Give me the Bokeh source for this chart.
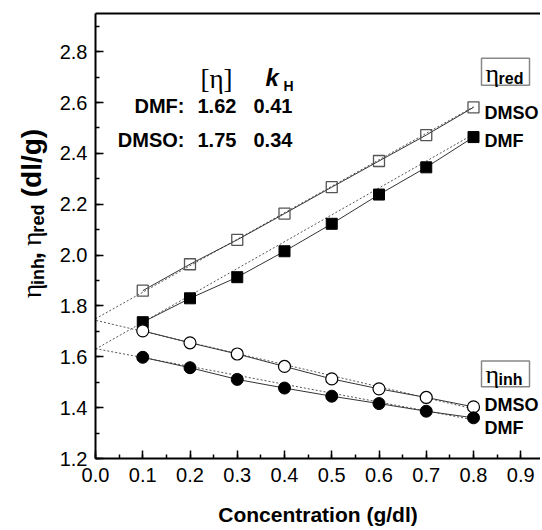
import math
from bokeh.plotting import figure
from bokeh.layouts import row
from bokeh.models import (Range1d, SingleIntervalTicker, FixedTicker, PrintfTickFormatter,
                          Label, LinearAxis)
from bokeh.embed import file_html
from bokeh.resources import INLINE

# ---------------- data ----------------
conc = [0.1, 0.2, 0.3, 0.4, 0.5, 0.6, 0.7, 0.8]
red_dmso = [1.860, 1.964, 2.060, 2.163, 2.267, 2.370, 2.472, 2.581]
red_dmf = [1.736, 1.830, 1.913, 2.015, 2.123, 2.238, 2.345, 2.464]
inh_dmso = [1.702, 1.655, 1.611, 1.562, 1.513, 1.474, 1.440, 1.403]
inh_dmf = [1.598, 1.557, 1.511, 1.477, 1.445, 1.416, 1.386, 1.360]

# dotted extrapolation lines
fit_dmso_x = [-0.015, 0.8]
fit_red_dmso_y = [1.734, 2.583]
fit_inh_dmso_y = [1.750, 1.395]
fit_dmf_x = [0.0, 0.8]
fit_red_dmf_y = [1.630, 2.475]
fit_inh_dmf_y = [1.632, 1.352]

x_ticks_interval = 0.1
y_ticks_interval = 0.2

# ---------------- layout (page pixels) ----------------
TOTAL_W, TOTAL_H = 540, 528
LW = 52                      # strip holding the rotated y title
W = TOTAL_W - LW             # main figure width
H = TOTAL_H
ML, MR, MT = 43, 0, 13
FH = 447
MB = H - MT - FH
FW = W - ML - MR
PX0 = LW + ML                # page x of the frame's left edge
PY0 = MT + FH                # page y of the frame's bottom edge
XPPU = 472.5                 # pixels per x unit
XMIN = 0.0
XMAX = XMIN + FW / XPPU
YMIN, YMAX = 1.2, 2.95
TEXT_SHIFT = 4               # baseline correction for labels


def dx(px):
    return XMIN + (px - PX0) / XPPU


def dy(py):
    return YMIN + (PY0 - py) / FH * (YMAX - YMIN)


FONT = "Liberation Sans"
SERIF = "Liberation Serif"

p = figure(width=W, height=H, output_backend="svg", toolbar_location=None,
           x_range=Range1d(XMIN, XMAX), y_range=Range1d(YMIN, YMAX),
           min_border_left=ML, min_border_right=MR, min_border_top=MT, min_border_bottom=MB)
p.grid.visible = False
p.outline_line_color = None
p.background_fill_color = "white"
p.border_fill_color = "white"

p.xaxis.ticker = SingleIntervalTicker(interval=x_ticks_interval, num_minor_ticks=2)
p.yaxis.ticker = SingleIntervalTicker(interval=y_ticks_interval, num_minor_ticks=2)
p.xaxis.formatter = PrintfTickFormatter(format="%.1f")
p.yaxis.formatter = PrintfTickFormatter(format="%.1f")
for ax in (p.xaxis, p.yaxis):
    ax.axis_line_width = 2
    ax.axis_line_color = "black"
    ax.major_tick_in = 8
    ax.major_tick_out = 0
    ax.minor_tick_in = 4
    ax.minor_tick_out = 0
    ax.major_tick_line_width = 1.5
    ax.minor_tick_line_width = 1.5
    ax.major_label_text_font = FONT
    ax.major_label_text_font_size = "20px"
    ax.major_label_text_color = "black"
p.xaxis.major_label_standoff = 9
p.yaxis.major_label_standoff = 8
p.xaxis.axis_label = "Concentration (g/dl)"
p.xaxis.axis_label_text_font = FONT
p.xaxis.axis_label_text_font_style = "bold"
p.xaxis.axis_label_text_font_size = "21px"
p.xaxis.axis_label_text_color = "black"
p.xaxis.axis_label_standoff = 18

# top frame line (the right edge of the frame lies outside the picture)
top_axis = LinearAxis(ticker=FixedTicker(ticks=[]),
                      major_tick_in=0, major_tick_out=0, minor_tick_in=0, minor_tick_out=0,
                      axis_line_width=2, axis_line_color="black")
p.add_layout(top_axis, "above")

# ---------------- lines ----------------
for fy, fx in ((fit_red_dmso_y, fit_dmso_x), (fit_inh_dmso_y, fit_dmso_x),
               (fit_red_dmf_y, fit_dmf_x), (fit_inh_dmf_y, fit_dmf_x)):
    p.line(fx, fy, line_color="#555555", line_width=1, line_dash="2 2")

for ys in (red_dmso, red_dmf, inh_dmso, inh_dmf):
    p.line(conc, ys, line_color="#333333", line_width=1)

p.scatter(conc, red_dmso, marker="square", size=11, fill_color=None,
          line_color="#555555", line_width=1.3)
p.scatter(conc, red_dmf, marker="square", size=11, fill_color="black",
          line_color="black", line_width=1)
p.scatter(conc, inh_dmso, marker="circle", size=12, fill_color="white",
          line_color="black", line_width=1.2)
p.scatter(conc, inh_dmf, marker="circle", size=12, fill_color="black",
          line_color="black", line_width=1)

# boxed series titles (frames)
p.quad(left=[dx(481), dx(481)], right=[dx(529), dx(529)],
       top=[dy(58), dy(362)], bottom=[dy(85), dy(388)],
       fill_color=None, line_color="#888888", line_width=1.5)


# ---------------- annotations ----------------
def lab(text, px, py, size, style="normal", font=FONT, align="left"):
    p.add_layout(Label(x=dx(px), y=dy(py - TEXT_SHIFT), text=text, text_font=font,
                       text_font_size=f"{size}px", text_font_style=style,
                       text_align=align, text_baseline="alphabetic",
                       text_color="black"))


# table of intrinsic viscosity and Huggins constant
lab("[η]", 200, 83, 27, font=SERIF)
lab("k", 265, 81, 24, style="bold italic")
lab("H", 283, 90, 14, style="bold")
lab("DMF:", 184, 110, 20, style="bold", align="right")
lab("DMSO:", 184, 144, 20, style="bold", align="right")
lab("1.62", 197, 110, 20, style="bold")
lab("0.41", 253, 110, 20, style="bold")
lab("1.75", 197, 144, 20, style="bold")
lab("0.34", 253, 144, 20, style="bold")

lab("η", 485, 77, 26, font=SERIF)
lab("red", 498, 82, 16, style="bold")
lab("η", 485, 380, 26, font=SERIF)
lab("inh", 498, 385, 16, style="bold")

lab("DMSO", 484, 117, 18, style="bold")
lab("DMF", 484, 145, 18, style="bold")
lab("DMSO", 484, 410, 18, style="bold")
lab("DMF", 484, 433, 18, style="bold")

# ---------------- rotated y title in its own strip ----------------
t = figure(width=LW, height=H, output_backend="svg", toolbar_location=None,
           x_range=Range1d(0, LW), y_range=Range1d(H, 0),
           min_border=0, min_border_left=0, min_border_right=0,
           min_border_top=0, min_border_bottom=0)
t.axis.visible = False
t.grid.visible = False
t.outline_line_color = None
t.background_fill_color = "white"
t.border_fill_color = "white"


def ylab(text, px, py, size, style="normal", font=FONT):
    t.add_layout(Label(x=px - 6, y=py, text=text, text_font=font,
                       text_font_size=f"{size}px", text_font_style=style,
                       text_align="left", text_baseline="alphabetic",
                       text_color="black", angle=math.pi / 2))


ylab("η", 37, 338, 28, font=SERIF)
ylab("inh", 43, 322, 18, style="bold")
ylab(",", 37, 292, 27, style="bold")
ylab("η", 37, 276, 28, font=SERIF)
ylab("red", 43, 260, 18, style="bold")
ylab("(dl/g)", 37, 218, 28, style="bold")

layout = row(t, p, spacing=0)
open("out.html", "w").write(file_html(layout, INLINE))
